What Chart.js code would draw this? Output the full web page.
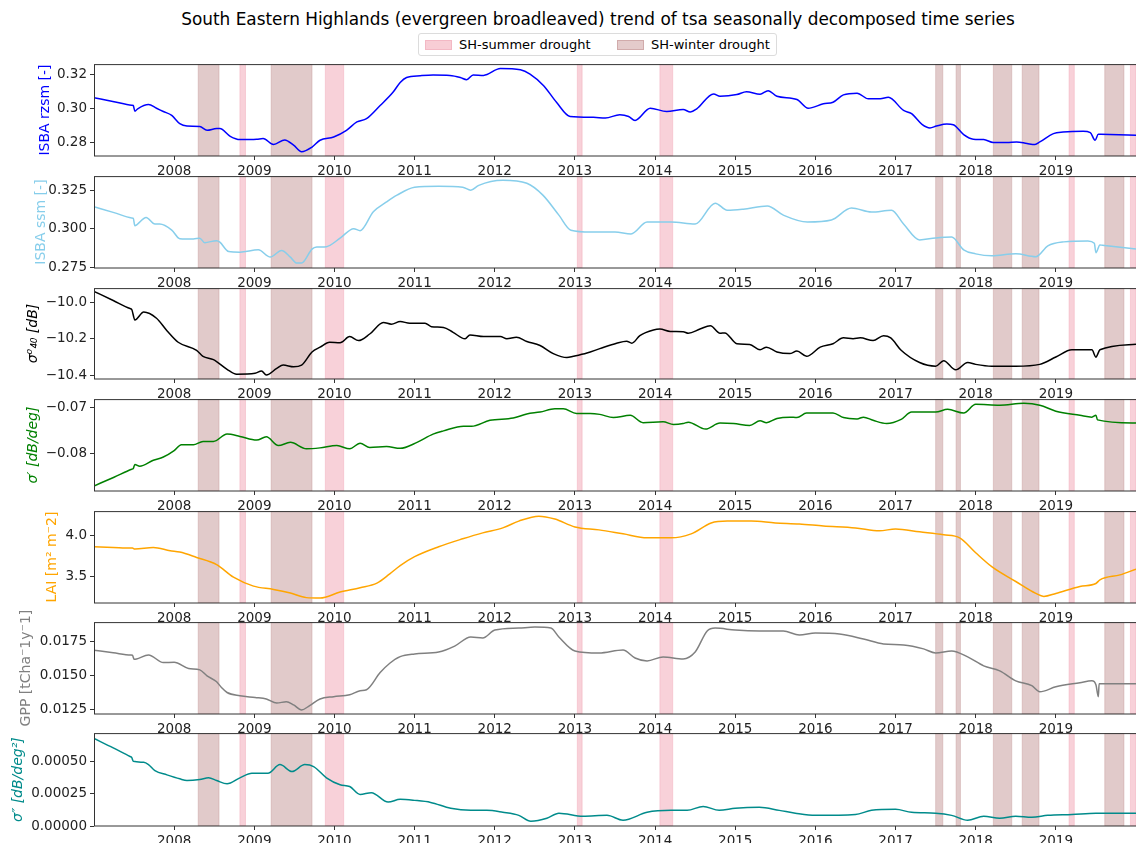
<!DOCTYPE html>
<html><head><meta charset="utf-8">
<script src="https://cdn.jsdelivr.net/npm/chart.js@4.4.1/dist/chart.umd.min.js"></script>
<style>
html,body{margin:0;padding:0;background:#fff;}
body{width:1136px;height:843px;position:relative;overflow:hidden;font-family:"DejaVu Sans",sans-serif;}
canvas{position:absolute;left:0;}
#title{position:absolute;top:9px;left:0;width:1196px;text-align:center;font-size:16.9px;color:#000;white-space:nowrap;}
#legend{position:absolute;left:418px;top:33px;width:359px;height:23px;border:1px solid #dcdcdc;border-radius:3px;box-sizing:border-box;font-size:13px;color:#000;}
.patch{position:absolute;top:6px;width:27px;height:10px;}
.lt{position:absolute;top:3px;white-space:nowrap;}
</style></head>
<body>
<div id="title">South Eastern Highlands (evergreen broadleaved) trend of tsa seasonally decomposed time series</div>
<div id="legend">
  <div class="patch" style="left:6px;background:rgba(247,196,206,0.85);border:1px solid rgba(240,170,185,0.6);box-sizing:border-box;"></div>
  <div class="lt" style="left:40px;">SH-summer drought</div>
  <div class="patch" style="left:198px;background:rgba(205,160,160,0.55);border:1px solid rgba(190,140,140,0.5);box-sizing:border-box;"></div>
  <div class="lt" style="left:232px;">SH-winter drought</div>
</div>
<script>
// ---------------- data ----------------
const yearTicks = [2008,2009,2010,2011,2012,2013,2014,2015,2016,2017,2018,2019];
const summerStart = [2008.82, 2009.886, 2013.03, 2014.06, 2019.165, 2019.93];
const summerEnd   = [2008.89, 2010.115, 2013.09, 2014.22, 2019.23, 2020.0];
const winterStart = [2008.30, 2009.21, 2017.50, 2017.755, 2018.22, 2018.58, 2019.61];
const winterEnd   = [2008.56, 2009.72, 2017.59, 2017.81, 2018.45, 2018.79, 2019.85];

const rzsmX = [2007.0,2007.25,2007.47,2007.49,2007.51,2007.545,2007.68,2007.78,2007.865,2007.97,2008.07,2008.16,2008.32,2008.41,2008.53,2008.57,2008.70,2008.82,2009.03,2009.11,2009.24,2009.38,2009.49,2009.59,2009.72,2009.82,2009.99,2010.15,2010.28,2010.40,2010.57,2010.73,2010.82,2010.90,2011.07,2011.23,2011.44,2011.57,2011.65,2011.73,2011.86,2012.07,2012.32,2012.44,2012.61,2012.77,2012.94,2013.23,2013.38,2013.56,2013.67,2013.75,2013.94,2014.145,2014.35,2014.44,2014.52,2014.73,2014.81,2015.02,2015.14,2015.31,2015.41,2015.52,2015.77,2015.91,2016.10,2016.22,2016.35,2016.52,2016.66,2016.81,2016.91,2017.10,2017.20,2017.33,2017.43,2017.51,2017.64,2017.72,2017.85,2017.97,2018.10,2018.22,2018.39,2018.51,2018.64,2018.74,2018.80,2018.97,2019.09,2019.34,2019.43,2019.49,2019.53,2019.56,2020.0];
const rzsmY = [0.3061,0.30385,0.30178,0.3016,0.2983,0.2997,0.3022,0.3000,0.2981,0.2958,0.2910,0.2896,0.2893,0.2871,0.2881,0.2881,0.2836,0.2817,0.2819,0.2823,0.2788,0.2815,0.2784,0.2746,0.2773,0.2813,0.2832,0.2871,0.2920,0.2939,0.3016,0.3093,0.3151,0.3180,0.3190,0.3194,0.3192,0.3180,0.3167,0.3194,0.3192,0.3232,0.3225,0.3200,0.3132,0.3035,0.2952,0.2947,0.2943,0.2962,0.2952,0.2929,0.3000,0.2981,0.2993,0.2978,0.2997,0.3084,0.3070,0.3080,0.3097,0.3082,0.3103,0.3070,0.3051,0.3000,0.3026,0.3035,0.3078,0.3088,0.3055,0.3055,0.3064,0.2987,0.2968,0.2906,0.2885,0.2896,0.2908,0.2904,0.2846,0.2819,0.2817,0.2800,0.2800,0.2803,0.2794,0.2788,0.2803,0.2852,0.2861,0.2866,0.2858,0.2813,0.2848,0.28476,0.2842];

const ssmX = [2007.0,2007.25,2007.47,2007.49,2007.51,2007.54,2007.65,2007.76,2007.82,2007.97,2008.07,2008.24,2008.32,2008.38,2008.53,2008.57,2008.68,2008.82,2009.05,2009.20,2009.34,2009.45,2009.53,2009.59,2009.72,2009.78,2009.90,2010.07,2010.24,2010.32,2010.485,2010.65,2010.78,2011.0,2011.3,2011.6,2011.7,2011.8,2012.1,2012.4,2012.6,2012.8,2012.95,2013.2,2013.5,2013.7,2013.9,2014.2,2014.5,2014.75,2014.9,2015.1,2015.4,2015.6,2015.9,2016.2,2016.45,2016.7,2016.95,2017.1,2017.3,2017.5,2017.7,2017.85,2018.0,2018.2,2018.5,2018.75,2018.9,2019.1,2019.4,2019.48,2019.5,2019.55,2019.58,2020.0];
const ssmY = [0.3142,0.31045,0.30701,0.3067,0.3019,0.3028,0.3073,0.3030,0.3030,0.2991,0.2935,0.2933,0.2938,0.2909,0.2922,0.2912,0.2851,0.2847,0.2862,0.2815,0.2858,0.2815,0.2776,0.2776,0.2867,0.2880,0.2883,0.2938,0.3000,0.2987,0.3110,0.3174,0.3218,0.3269,0.3276,0.3270,0.3250,0.3282,0.3315,0.3295,0.3218,0.3088,0.2990,0.2978,0.2978,0.2966,0.3043,0.3043,0.3030,0.3166,0.3120,0.3127,0.3147,0.3088,0.3043,0.3056,0.3134,0.3108,0.3120,0.3030,0.2927,0.2940,0.2946,0.2862,0.2836,0.2823,0.2836,0.2817,0.2888,0.2914,0.2920,0.2905,0.2843,0.2894,0.2892,0.2868];

const sig40X = [2007.0,2007.24,2007.45,2007.47,2007.51,2007.62,2007.78,2007.91,2008.05,2008.28,2008.36,2008.49,2008.66,2008.78,2009.01,2009.09,2009.15,2009.28,2009.36,2009.49,2009.59,2009.72,2009.82,2009.94,2010.07,2010.19,2010.30,2010.44,2010.61,2010.71,2010.82,2010.94,2011.13,2011.21,2011.36,2011.48,2011.63,2011.69,2011.86,2012.07,2012.15,2012.27,2012.40,2012.565,2012.73,2012.90,2012.98,2013.15,2013.31,2013.52,2013.645,2013.71,2013.81,2013.98,2014.06,2014.19,2014.35,2014.415,2014.56,2014.69,2014.81,2014.87,2015.02,2015.18,2015.31,2015.39,2015.52,2015.68,2015.77,2015.89,2016.06,2016.22,2016.35,2016.47,2016.56,2016.72,2016.85,2016.94,2017.07,2017.3,2017.5,2017.6,2017.75,2017.9,2018.0,2018.2,2018.5,2018.8,2019.0,2019.2,2019.45,2019.5,2019.55,2020.0];
const sig40Y = [-9.941,-9.991,-10.0348,-10.039,-10.097,-10.054,-10.088,-10.156,-10.219,-10.263,-10.296,-10.314,-10.367,-10.394,-10.389,-10.376,-10.398,-10.362,-10.344,-10.353,-10.344,-10.272,-10.246,-10.219,-10.222,-10.188,-10.21,-10.174,-10.111,-10.12,-10.106,-10.115,-10.115,-10.134,-10.138,-10.165,-10.2,-10.179,-10.188,-10.188,-10.2,-10.192,-10.215,-10.237,-10.281,-10.303,-10.296,-10.278,-10.254,-10.224,-10.213,-10.224,-10.183,-10.152,-10.147,-10.16,-10.161,-10.17,-10.147,-10.129,-10.17,-10.168,-10.227,-10.231,-10.26,-10.246,-10.272,-10.281,-10.267,-10.296,-10.246,-10.227,-10.195,-10.2,-10.195,-10.21,-10.183,-10.195,-10.263,-10.33,-10.35,-10.32,-10.37,-10.33,-10.34,-10.35,-10.35,-10.34,-10.30,-10.26,-10.26,-10.30,-10.26,-10.23];

const slopeX = [2007.0,2007.25,2007.47,2007.49,2007.51,2007.57,2007.74,2007.865,2008.0,2008.09,2008.24,2008.36,2008.49,2008.66,2008.82,2009.03,2009.15,2009.30,2009.45,2009.65,2009.82,2010.03,2010.19,2010.32,2010.44,2010.65,2010.82,2011.03,2011.23,2011.36,2011.61,2011.71,2011.94,2012.23,2012.40,2012.565,2012.75,2012.855,2013.02,2013.19,2013.31,2013.48,2013.69,2013.85,2014.10,2014.23,2014.35,2014.415,2014.63,2014.81,2014.98,2015.18,2015.31,2015.39,2015.52,2015.68,2015.77,2015.89,2016.22,2016.35,2016.52,2016.60,2016.72,2016.89,2017.07,2017.2,2017.5,2017.65,2017.85,2018.0,2018.3,2018.6,2018.8,2019.0,2019.3,2019.45,2019.5,2019.52,2020.0];
const slopeY = [-0.0870,-0.0851,-0.08336,-0.0832,-0.0823,-0.0827,-0.0814,-0.0807,-0.0793,-0.0780,-0.0780,-0.0773,-0.0773,-0.0757,-0.0762,-0.0770,-0.0763,-0.0782,-0.0775,-0.0789,-0.0787,-0.0782,-0.0789,-0.0777,-0.0786,-0.0784,-0.0788,-0.0775,-0.0757,-0.0750,-0.0740,-0.0740,-0.0727,-0.0722,-0.0713,-0.0709,-0.0702,-0.0702,-0.0712,-0.0712,-0.0714,-0.0721,-0.0716,-0.0732,-0.0730,-0.0736,-0.0734,-0.0731,-0.0746,-0.0733,-0.0734,-0.0738,-0.0728,-0.0732,-0.0723,-0.0720,-0.0721,-0.0711,-0.0711,-0.0721,-0.0724,-0.0720,-0.0727,-0.0734,-0.0725,-0.0709,-0.0709,-0.0703,-0.0711,-0.0692,-0.0694,-0.0690,-0.0694,-0.0707,-0.0716,-0.0720,-0.0716,-0.0726,-0.0733];

const laiX = [2007.0,2007.24,2007.46,2007.48,2007.51,2007.74,2007.95,2008.07,2008.28,2008.53,2008.74,2008.99,2009.24,2009.45,2009.65,2009.82,2010.07,2010.32,2010.53,2010.69,2010.82,2011.0,2011.3,2011.6,2011.85,2012.1,2012.3,2012.55,2012.75,2013.0,2013.3,2013.6,2013.9,2014.2,2014.45,2014.7,2014.9,2015.2,2015.5,2015.8,2016.1,2016.5,2016.8,2017.0,2017.3,2017.6,2017.8,2018.0,2018.2,2018.5,2018.75,2018.85,2019.0,2019.3,2019.5,2019.55,2019.8,2020.0];
const laiY = [3.86,3.852,3.8447,3.844,3.832,3.851,3.812,3.796,3.731,3.644,3.492,3.384,3.344,3.30,3.245,3.24,3.312,3.364,3.42,3.532,3.632,3.74,3.86,3.956,4.028,4.088,4.17,4.23,4.195,4.10,4.064,4.016,3.968,3.968,4.016,4.148,4.17,4.17,4.148,4.136,4.112,4.088,4.052,4.076,4.04,4.004,3.968,3.788,3.62,3.44,3.296,3.26,3.296,3.38,3.416,3.46,3.52,3.59];

const gppX = [2007.0,2007.24,2007.46,2007.48,2007.50,2007.53,2007.68,2007.865,2008.0,2008.18,2008.32,2008.41,2008.53,2008.59,2008.66,2008.82,2009.01,2009.15,2009.28,2009.40,2009.49,2009.59,2009.69,2009.82,2009.99,2010.19,2010.32,2010.40,2010.57,2010.69,2010.82,2011.0,2011.3,2011.5,2011.7,2011.85,2012.0,2012.3,2012.5,2012.7,2012.8,2013.0,2013.3,2013.6,2013.75,2013.9,2014.1,2014.35,2014.5,2014.65,2014.75,2015.0,2015.3,2015.6,2015.8,2016.0,2016.3,2016.6,2016.85,2017.1,2017.35,2017.5,2017.7,2017.9,2018.1,2018.3,2018.5,2018.7,2018.8,2019.0,2019.3,2019.45,2019.5,2019.53,2019.54,2020.0];
const gppY = [0.01689,0.016705,0.016535,0.01652,0.01623,0.01625,0.01654,0.01598,0.01600,0.01554,0.01544,0.01500,0.01456,0.01414,0.01377,0.01353,0.01340,0.01329,0.01299,0.01309,0.01285,0.01248,0.01280,0.01329,0.01346,0.01360,0.01390,0.01397,0.01524,0.01593,0.01642,0.01662,0.01676,0.01720,0.01787,0.01780,0.01838,0.01853,0.01860,0.01853,0.01787,0.01684,0.01669,0.01691,0.01632,0.01610,0.01640,0.01625,0.01676,0.01831,0.01853,0.01838,0.01831,0.01831,0.01801,0.01816,0.01809,0.01772,0.01735,0.01728,0.01699,0.01669,0.01684,0.01640,0.01574,0.01537,0.01463,0.01427,0.01382,0.01419,0.01449,0.01463,0.01434,0.01346,0.01441,0.01441];

const curvX = [2007.0,2007.24,2007.45,2007.47,2007.49,2007.62,2007.68,2007.76,2007.91,2008.07,2008.16,2008.32,2008.43,2008.53,2008.66,2008.82,2008.97,2009.17,2009.32,2009.47,2009.63,2009.74,2009.90,2010.07,2010.19,2010.32,2010.46,2010.67,2010.82,2011.0,2011.2,2011.45,2011.7,2011.9,2012.1,2012.3,2012.45,2012.65,2012.8,2013.1,2013.4,2013.6,2013.9,2014.2,2014.4,2014.6,2014.8,2015.0,2015.3,2015.55,2015.75,2016.0,2016.5,2016.7,2017.0,2017.2,2017.5,2017.7,2017.9,2018.1,2018.3,2018.5,2018.7,2018.9,2019.2,2019.5,2020.0];
const curvY = [0.000683,0.0006095,0.0005423,0.000536,0.000505,0.000497,0.000479,0.000432,0.000399,0.000368,0.000355,0.000363,0.000376,0.000355,0.000329,0.000376,0.000412,0.000412,0.000479,0.000425,0.000479,0.000464,0.000376,0.000322,0.000308,0.000246,0.000260,0.000187,0.000208,0.000200,0.000184,0.000138,0.000122,0.000122,0.000107,0.000083,0.000037,0.000060,0.000100,0.000076,0.000083,0.000045,0.000107,0.000122,0.000122,0.000153,0.000122,0.000138,0.000146,0.000122,0.000100,0.000083,0.000090,0.000122,0.000130,0.000107,0.000100,0.000083,0.000045,0.000076,0.000060,0.000076,0.000068,0.000083,0.000090,0.000100,0.000100];

const rzsmTicks = [0.28,0.30,0.32];
const ssmTicks = [0.275,0.300,0.325];
const sig40Ticks = [-10.4,-10.2,-10.0];
const slopeTicks = [-0.08,-0.07];
const laiTicks = [3.5,4.0];
const gppTicks = [0.0125,0.0150,0.0175];
const curvTicks = [0,0.00025,0.0005];

// ---------------- panels ----------------
const FONT = '"DejaVu Sans", sans-serif';
const minus = s => s.replace('-', '\u2212');
const panels = [
  {x:rzsmX, y:rzsmY, ticks:rzsmTicks, dec:2, min:0.2721, max:0.3258, color:'#0000ff', label:'ISBA rzsm [-]', italic:false, top:63, bottom:156, labelX:45},
  {x:ssmX, y:ssmY, ticks:ssmTicks, dec:3, min:0.2744, max:0.3342, color:'#87ceeb', label:'ISBA ssm [-]', italic:false, top:175, bottom:268, labelX:41},
  {x:sig40X, y:sig40Y, ticks:sig40Ticks, dec:1, min:-10.42, max:-9.923, color:'#000000', label:'σ⁰₄₀ [dB]', italic:true, top:287, bottom:379, labelX:33},
  {x:slopeX, y:slopeY, ticks:slopeTicks, dec:2, min:-0.0881, max:-0.06807, color:'#008000', label:'σ′ [dB/deg]', italic:true, top:398, bottom:491, labelX:33},
  {x:laiX, y:laiY, ticks:laiTicks, dec:1, min:3.18, max:4.291, color:'#ffa500', label:'LAI [m² m⁻2]', italic:false, top:510, bottom:603, labelX:52},
  {x:gppX, y:gppY, ticks:gppTicks, dec:4, min:0.01218, max:0.01897, color:'#808080', label:'GPP [tCha⁻1y⁻1]', italic:false, top:621, bottom:714, labelX:26},
  {x:curvX, y:curvY, ticks:curvTicks, dec:5, min:0, max:0.000725, color:'#008b8b', label:'σ″ [dB/deg²]', italic:true, top:732, bottom:826, labelX:18}
];

const PADTOP = 10, XAXH = 24, YAXW = 94;

const bandPlugin = {
  id: 'bands',
  beforeDatasetsDraw(chart) {
    const {ctx, chartArea: a, scales: {x}} = chart;
    ctx.save();
    ctx.beginPath(); ctx.rect(a.left, a.top, a.right - a.left, a.bottom - a.top); ctx.clip();
    const draw = (s, e, fill, stroke) => {
      for (let i = 0; i < s.length; i++) {
        const x0 = x.getPixelForValue(s[i]), x1 = x.getPixelForValue(e[i]);
        ctx.fillStyle = fill; ctx.fillRect(x0, a.top, x1 - x0, a.bottom - a.top);
        ctx.strokeStyle = stroke; ctx.lineWidth = 1;
        ctx.strokeRect(x0, a.top, x1 - x0, a.bottom - a.top);
      }
    };
    draw(winterStart, winterEnd, 'rgba(196,150,150,0.5)', 'rgba(190,140,140,0.35)');
    draw(summerStart, summerEnd, 'rgba(244,180,194,0.62)', 'rgba(240,160,178,0.4)');
    ctx.restore();
  },
  afterDraw(chart) {
    const {ctx, chartArea: a} = chart;
    ctx.save();
    ctx.strokeStyle = '#333'; ctx.lineWidth = 1;
    ctx.strokeRect(a.left + 0.5, a.top + 0.5, a.right - a.left, a.bottom - a.top - 0.5);
    ctx.restore();
  }
};

panels.forEach((p, idx) => {
  const cv = document.createElement('canvas');
  const h = p.bottom - p.top + PADTOP + XAXH;
  cv.width = 1136; cv.height = h;
  cv.style.width = '1136px'; cv.style.height = h + 'px';
  cv.style.top = (p.top - PADTOP) + 'px';
  document.body.appendChild(cv);
  const pts = [];
  for (let i = 0; i < Math.min(p.x.length, p.y.length); i++) pts.push({x: p.x[i], y: p.y[i]});
  const tickFont = {family: FONT, size: 13.5};
  new Chart(cv, {
    type: 'line',
    data: {datasets: [{data: pts, borderColor: p.color, borderWidth: 1.5, pointRadius: 0, fill: false, cubicInterpolationMode: 'monotone', clip: 0}]},
    options: {
      responsive: false, animation: false, devicePixelRatio: 1,
      layout: {padding: {top: PADTOP, left: 0, right: 0, bottom: 0}},
      plugins: {legend: {display: false}, tooltip: {enabled: false}, title: {display: false}},
      scales: {
        x: {
          type: 'linear', min: 2007.0, max: 2020.0,
          afterBuildTicks: s => { s.ticks = yearTicks.map(v => ({value: v})); },
          afterFit: s => { s.height = XAXH; },
          ticks: {color: '#222', font: tickFont, padding: 3, maxRotation: 0, autoSkip: false, callback: v => String(v)},
          grid: {display: true, drawOnChartArea: false, drawTicks: true, tickLength: 4, tickColor: '#333'},
          border: {display: false}
        },
        y: {
          type: 'linear', min: p.min, max: p.max,
          afterBuildTicks: s => { s.ticks = p.ticks.map(v => ({value: v})); },
          afterFit: s => { s.width = YAXW; },
          ticks: {color: '#222', font: tickFont, padding: 3, autoSkip: false, callback: v => minus(Number(v).toFixed(p.dec))},
          grid: {display: true, drawOnChartArea: false, drawTicks: true, tickLength: 4, tickColor: '#333'},
          border: {display: false},
          title: {display: true, text: p.label, color: p.color, font: {family: FONT, size: 14, style: p.italic ? 'italic' : 'normal'}, padding: {top: p.labelX - 8.4, bottom: 0}}
        }
      }
    },
    plugins: [bandPlugin]
  });
});
</script>
</body></html>
